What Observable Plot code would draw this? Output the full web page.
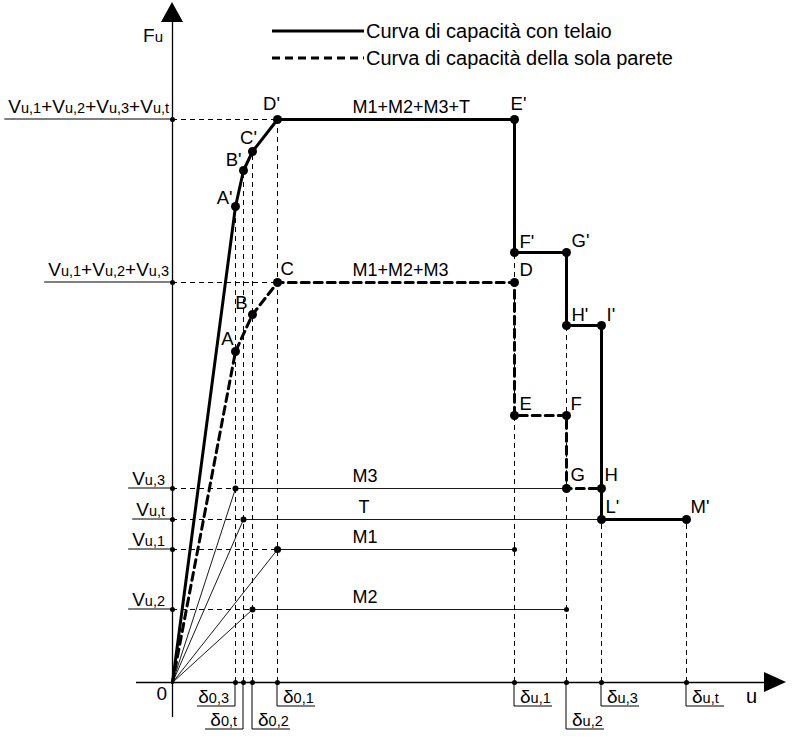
<!DOCTYPE html>
<html>
<head>
<meta charset="utf-8">
<script src="https://cdn.jsdelivr.net/npm/d3@7"></script>
<script src="https://cdn.jsdelivr.net/npm/@observablehq/plot@0.6"></script>
<style>
  body { margin: 0; background: #fff; }
  #wrap { position: relative; width: 793px; height: 739px; }
</style>
</head>
<body>
<div id="wrap"></div>
<script>
const FONT = "'Liberation Sans', Arial, Helvetica, sans-serif";

// ---- characteristic displacements (u) ----
const d03 = 63, d0t = 71, d02 = 80, d01 = 105;
const du1 = 342, du2 = 394, du3 = 429, dut = 514;
// ---- strengths (Fu) ----
const Vu2 = 73, Vu1 = 133, Vut = 163, Vu3 = 194, V123 = 400, Vtot = 563;

// Capacity curve with frame (solid)
const frameNames = ["0", "A'", "B'", "C'", "D'", "E'", "F'", "G'", "H'", "I'", "L'", "M'"];
const frameU     = [0, 63, 71, 80, 105, 342, 342, 394, 394, 429, 429, 514];
const frameF     = [0, 476, 512, 531, 563, 563, 430, 430, 357, 357, 163, 163];

// Capacity curve of the wall alone (dashed)
const wallNames = ["0", "A", "B", "C", "D", "E", "F", "G", "H"];
const wallU     = [0, 63, 80, 105, 342, 342, 394, 394, 429];
const wallF     = [0, 331, 368, 400, 400, 267, 267, 194, 194];

// Single components (thin lines)
const compNames = ["M3", "T", "M1", "M2"];
const compYieldU = [63, 71, 105, 80];
const compV      = [194, 163, 133, 73];
const compEndU   = [394, 429, 342, 394];

// Plateau labels
const segNames = ["M1+M2+M3+T", "M1+M2+M3", "M3", "T", "M1", "M2"];
const segU     = [180, 180, 180, 186, 180, 180];
const segF     = [563, 400, 194, 163, 133, 73];

// Tick values / labels
const xTickValues = [63, 71, 80, 105, 342, 394, 429, 514];
const xTickLabels = [["δ","0,3"],["δ","0,t"],["δ","0,2"],["δ","0,1"],["δ","u,1"],["δ","u,2"],["δ","u,3"],["δ","u,t"]];
const yTickValues = [563, 400, 194, 163, 133, 73];
const yTickLabels = [
  [["V","u,1"],["+V","u,2"],["+V","u,3"],["+V","u,t"]],
  [["V","u,1"],["+V","u,2"],["+V","u,3"]],
  [["V","u,3"]], [["V","u,t"]], [["V","u,1"]], [["V","u,2"]]
];

// Guide lines (to the curve points)
const hGuideF = [563, 400, 194, 163, 133, 73];
const hGuideU = [105, 105, 63, 71, 105, 80];
const vGuideU = [63, 71, 80, 105, 342, 394, 429, 514];
const vGuideF = [476, 512, 531, 563, 430, 357, 163, 163];

// Legend
const legendNames = ["Curva di capacità con telaio", "Curva di capacità della sola parete"];

// ---------- build tables ----------
const frame = frameNames.map((n, i) => ({name: n, u: frameU[i], f: frameF[i]}));
const wall = wallNames.map((n, i) => ({name: n, u: wallU[i], f: wallF[i]}));
const comps = compNames.flatMap((n, i) => [
  {name: n, u: 0, f: 0}, {name: n, u: compYieldU[i], f: compV[i]}, {name: n, u: compEndU[i], f: compV[i]}
]);
const hGuides = hGuideF.map((f, i) => ({f, u: hGuideU[i]}));
const vGuides = vGuideU.map((u, i) => ({u, f: vGuideF[i]}));
const curvePts = frame.slice(1).concat(wall.slice(1));

// label placement styles
const labelStyle = {
  "A'": ["end", -3, -8], "B'": ["end", -2, -10], "C'": ["middle", -4, -13], "D'": ["middle", -6, -15],
  "E'": ["middle", 4, -15], "F'": ["start", 5, -10], "G'": ["start", 5, -11], "H'": ["start", 5, -10],
  "I'": ["start", 5, -10], "L'": ["start", 4, -12], "M'": ["start", 4, -12],
  "A": ["end", -2, -12], "B": ["end", -5, -11], "C": ["start", 3, -13], "D": ["start", 5, -12],
  "E": ["start", 5, -11], "F": ["start", 4, -11], "G": ["start", 4, -13], "H": ["start", 3, -13]
};

const pointLabelMarks = curvePts.map(p => {
  const [a, dx, dy] = labelStyle[p.name];
  return Plot.text([p], {x: "u", y: "f", text: "name", textAnchor: a, dx, dy, fontSize: 18.5, fill: "black"});
});

const plot = Plot.plot({
  width: 793, height: 739,
  marginLeft: 172, marginRight: 8, marginTop: 2, marginBottom: 57,
  x: {domain: [0, 613], axis: null},
  y: {domain: [0, 680], axis: null},
  style: {fontFamily: FONT, background: "white", overflow: "visible"},
  marks: [
    // axes
    Plot.ruleY([0], {x1: -36, x2: 592, stroke: "black", strokeWidth: 1.3}),
    Plot.ruleX([0], {y1: -35, y2: 660, stroke: "black", strokeWidth: 1.3}),
    // dashed guides
    Plot.ruleY(hGuides, {y: "f", x1: 0, x2: "u", stroke: "black", strokeWidth: 1, strokeDasharray: "5,4"}),
    Plot.ruleX(vGuides, {x: "u", y1: 0, y2: "f", stroke: "black", strokeWidth: 1, strokeDasharray: "5,4"}),
    // components
    Plot.line(comps, {x: "u", y: "f", z: "name", stroke: "black", strokeWidth: 0.9}),
    Plot.dot(comps.filter((d, i) => i % 3 === 1), {x: "u", y: "f", r: d => d.name === "M1" ? 3.5 : 2.5, fill: "black"}),
    Plot.dot(comps.filter((d, i) => i % 3 === 2 && (d.name === "M1" || d.name === "M2")), {x: "u", y: "f", r: 2.5, fill: "black"}),
    // curves
    Plot.line(wall, {x: "u", y: "f", stroke: "black", strokeWidth: 3, strokeDasharray: "8,5"}),
    Plot.line(frame, {x: "u", y: "f", stroke: "black", strokeWidth: 3}),
    Plot.dot(curvePts, {x: "u", y: "f", r: 4.5, fill: "black"}),
    // tick dots on axes
    Plot.dot(xTickValues, {x: d => d, y: 0, r: 2.5, fill: "black"}),
    Plot.dot(yTickValues, {x: 0, y: d => d, r: 2.5, fill: "black"}),
    // labels
    ...pointLabelMarks,
    Plot.text(segNames.map((n, i) => ({n, u: segU[i], f: segF[i]})), {x: "u", y: "f", text: "n", textAnchor: "start", dy: -12, fontSize: 18, fill: "black"})
  ]
});

document.getElementById("wrap").appendChild(plot);

// ---------- annotations positioned with Plot's scales ----------
const sx = plot.scale("x"), sy = plot.scale("y");
const X = v => sx.apply(v), Y = v => sy.apply(v);
const x0 = X(0), y0 = Y(0);
const svg = d3.select(plot);
const g = svg.append("g").attr("font-family", FONT).attr("fill", "black").attr("text-anchor", "start");

// arrowheads
g.append("path").attr("d", `M${x0},${Y(680)}L${x0 - 11},${Y(660)}L${x0 + 11},${Y(660)}Z`);
g.append("path").attr("d", `M${X(613) + 1},${y0}L${X(592)},${y0 - 10}L${X(592)},${y0 + 10}Z`);

function rich(t, parts, big, small) {
  parts.forEach(([b, s]) => {
    if (b) t.append("tspan").attr("font-size", big).text(b);
    if (s) t.append("tspan").attr("font-size", small).text(s);
  });
}

// axis names
const fu = g.append("text").attr("x", x0 - 9).attr("y", Y(680) + 40).attr("text-anchor", "end");
rich(fu, [["F", "u"]], 19, 15);
g.append("text").attr("x", X(613) - 39).attr("y", y0 + 21).attr("text-anchor", "start").attr("font-size", 20).text("u");
g.append("text").attr("x", x0 - 5).attr("y", y0 + 18).attr("text-anchor", "end").attr("font-size", 19).text("0");

// y tick labels with underline
yTickLabels.forEach((parts, i) => {
  const multi = parts.length > 1;
  const yy = Y(yTickValues[i]);
  const t = g.append("text").attr("x", x0 - (multi ? 3 : 7)).attr("y", yy - (multi ? 6 : 3)).attr("text-anchor", "end");
  rich(t, parts, 19, 14.5);
  const w = t.node().getComputedTextLength();
  g.append("line").attr("x1", x0 - (multi ? 3 : 7) - w - 4).attr("x2", x0).attr("y1", yy).attr("y2", yy)
    .attr("stroke", "black").attr("stroke-width", 1);
});

// x tick labels with brackets
const xSide = ["left", "left", "right", "right", "right", "right", "right", "right"];
const xDepth = [24, 47, 47, 24, 24, 47, 24, 24];
xTickLabels.forEach((parts, i) => {
  const xx = X(xTickValues[i]);
  const yb = y0 + xDepth[i];
  const dir = xSide[i] === "left" ? -1 : 1;
  g.append("path").attr("d", `M${xx},${y0}V${yb}H${xx + dir * 38}`).attr("fill", "none").attr("stroke", "black").attr("stroke-width", 1);
  const t = g.append("text").attr("x", xx + dir * 6).attr("y", yb - 3).attr("text-anchor", dir < 0 ? "end" : "start");
  rich(t, [parts], 19, 14.5);
});

// legend
legendNames.forEach((name, i) => {
  const ly = 31 + i * 27;
  g.append("line").attr("x1", 272).attr("x2", 364).attr("y1", ly).attr("y2", ly)
    .attr("stroke", "black").attr("stroke-width", 3).attr("stroke-dasharray", i ? "8,5" : null);
  g.append("text").attr("x", 366).attr("y", ly + 7).attr("text-anchor", "start").attr("font-size", 20).text(name);
});
</script>
</body>
</html>
